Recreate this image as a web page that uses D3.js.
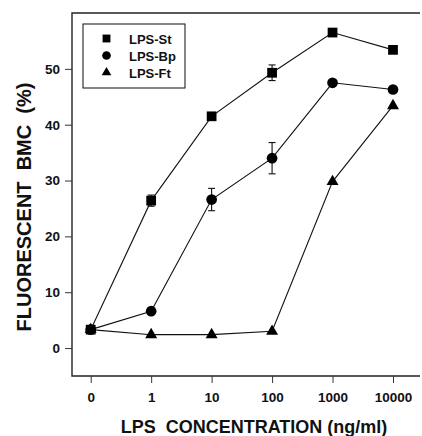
<!DOCTYPE html>
<html>
<head>
<meta charset="utf-8">
<script src="https://cdn.jsdelivr.net/npm/d3@7"></script>
<style>
  body { margin: 0; background: #fff; }
  text { font-family: "Liberation Sans", Arial, Helvetica, sans-serif; font-weight: bold; fill: #111; }
  .title { white-space: pre; }
</style>
</head>
<body>
<svg id="chart" width="422" height="436"></svg>
<script>
// LPS concentration categories (ng/ml)
var concLabels = ["0", "1", "10", "100", "1000", "10000"];
var yTicks = [0, 10, 20, 30, 40, 50];

// fluorescent BMC (%)
var stValues = [3.3, 26.4, 41.5, 49.3, 56.5, 53.4];
var bpValues = [3.3, 6.6, 26.6, 34.0, 47.5, 46.3];
var ftValues = [3.3, 2.4, 2.4, 3.0, 29.8, 43.4];

// error bar half widths (null = none drawn)
var stErr = [null, 1.0, null, 1.4, null, null];
var bpErr = [null, null, 2.0, 2.8, null, null];
var ftErr = [null, null, null, null, null, null];

var seriesNames = ["LPS-St", "LPS-Bp", "LPS-Ft"];

var series = [
    { name: seriesNames[0], values: stValues, err: stErr, shape: d3.symbolSquare, size: 95 },
    { name: seriesNames[1], values: bpValues, err: bpErr, shape: d3.symbolCircle, size: 90 },
    { name: seriesNames[2], values: ftValues, err: ftErr, shape: d3.symbolTriangle, size: 62 }
];

var svg = d3.select("#chart");

var plotLeft = 72, plotRight = 420, plotTop = 13, plotBottom = 376;

var xScale = d3.scalePoint().domain(concLabels).range([90.7, 393]);
var yScale = d3.scaleLinear().domain([-5, 60]).range([plotBottom, plotTop]);

// frame: left, top and bottom lines only
svg.append("path")
    .attr("d", "M" + plotRight + "," + plotTop + "H" + plotLeft + "V" + plotBottom + "H" + plotRight)
    .attr("fill", "none")
    .attr("stroke", "#222")
    .attr("stroke-width", 1.4);

// y axis
var yAxis = d3.axisLeft(yScale).tickValues(yTicks).tickSize(7).tickPadding(5);
var gy = svg.append("g").attr("transform", "translate(" + plotLeft + ",0)").call(yAxis);
gy.select(".domain").remove();
gy.selectAll("line").attr("stroke", "#333");
gy.selectAll("text").attr("font-size", 13.5).attr("font-family", null);

// x axis
var xAxis = d3.axisBottom(xScale).tickSize(7).tickPadding(9);
var gx = svg.append("g").attr("transform", "translate(0," + plotBottom + ")").call(xAxis);
gx.select(".domain").remove();
gx.selectAll("line").attr("stroke", "#333");
gx.selectAll("text").attr("font-size", 13.5).attr("font-family", null);

// axis titles
svg.append("text")
    .attr("class", "title")
    .attr("x", 254).attr("y", 433)
    .attr("text-anchor", "middle")
    .attr("font-size", 18)
    .text("LPS  CONCENTRATION (ng/ml)");

svg.append("text")
    .attr("class", "title")
    .attr("transform", "translate(31,207) rotate(-90)")
    .attr("text-anchor", "middle")
    .attr("font-size", 20)
    .text("FLUORESCENT  BMC  (%)");

// lines
var line = d3.line()
    .x(function (d, i) { return xScale(concLabels[i]); })
    .y(function (d) { return yScale(d); });

series.forEach(function (s) {
    svg.append("path")
        .datum(s.values)
        .attr("d", line)
        .attr("fill", "none")
        .attr("stroke", "#111")
        .attr("stroke-width", 1.1);
});

// error bars
series.forEach(function (s) {
    s.values.forEach(function (v, i) {
        if (s.err[i] == null) return;
        var cx = xScale(concLabels[i]);
        var y0 = yScale(v - s.err[i]), y1 = yScale(v + s.err[i]);
        var g = svg.append("g").attr("stroke", "#111").attr("stroke-width", 1.1);
        g.append("line").attr("x1", cx).attr("x2", cx).attr("y1", y0).attr("y2", y1);
        g.append("line").attr("x1", cx - 3.5).attr("x2", cx + 3.5).attr("y1", y0).attr("y2", y0);
        g.append("line").attr("x1", cx - 3.5).attr("x2", cx + 3.5).attr("y1", y1).attr("y2", y1);
    });
});

// markers
series.forEach(function (s) {
    svg.append("g").selectAll("path")
        .data(s.values)
        .enter().append("path")
        .attr("transform", function (d, i) {
            return "translate(" + xScale(concLabels[i]) + "," + yScale(d) + ")";
        })
        .attr("d", d3.symbol().type(s.shape).size(s.size))
        .attr("fill", "#000");
});

// legend
var legend = svg.append("g");
legend.append("rect")
    .attr("x", 83).attr("y", 24).attr("width", 102).attr("height", 64)
    .attr("fill", "#fff").attr("stroke", "#222").attr("stroke-width", 1.1);

series.forEach(function (s, i) {
    var ly = 38.5 + i * 17;
    legend.append("path")
        .attr("transform", "translate(106.5," + ly + ")")
        .attr("d", d3.symbol().type(s.shape).size(s.size * 0.65))
        .attr("fill", "#000");
    legend.append("text")
        .attr("x", 129).attr("y", ly + 5)
        .attr("font-size", 13)
        .text(s.name);
});
</script>
</body>
</html>
